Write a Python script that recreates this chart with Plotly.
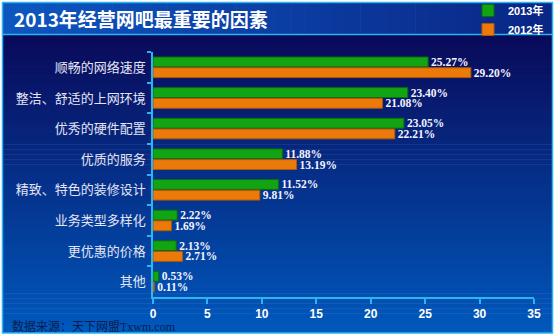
import plotly.graph_objects as go

# ---- data ----
categories = ["顺畅的网络速度", "整洁、舒适的上网环境", "优秀的硬件配置", "优质的服务",
              "精致、特色的装修设计", "业务类型多样化", "更优惠的价格", "其他"]
values_2013 = [25.27, 23.40, 23.05, 11.88, 11.52, 2.22, 2.13, 0.53]
values_2012 = [29.20, 21.08, 22.21, 13.19, 9.81, 1.69, 2.71, 0.11]
series_names = ["2013年", "2012年"]
x_ticks = [0, 5, 10, 15, 20, 25, 30, 35]
title_text = "2013年经营网吧最重要的因素"
source_text = "数据来源：天下网盟Txwm.com"

# ---- geometry (pixels) ----
W, H = 558, 336
L, R, T, B = 153, 24, 52, 39
PW, PH = W - L - R, H - T - B


def px2x(px):
    return (px - L) / PW


def py2y(py):
    return (H - B - py) / PH


def lerp(c1, c2, t):
    a = [int(c1[i:i + 2], 16) for i in (1, 3, 5)]
    b = [int(c2[i:i + 2], 16) for i in (1, 3, 5)]
    return "#%02x%02x%02x" % tuple(round(a[k] + (b[k] - a[k]) * t) for k in range(3))


shapes = []
# plot-region vertical gradient
top_y, bot_y = 35, 333
N = 60
for i in range(N):
    y0 = top_y + (bot_y - top_y) * i / N
    y1 = top_y + (bot_y - top_y) * (i + 1) / N + 0.6
    shapes.append(dict(type="rect", xref="paper", yref="paper", layer="below",
                       x0=px2x(2), x1=px2x(553), y0=py2y(y0), y1=py2y(min(y1, bot_y)),
                       fillcolor=lerp("#0a0a5a", "#0058bc", i / (N - 1)), line_width=0))
# title bar horizontal gradient
M = 40
for i in range(M):
    x0 = 2 + (553 - 2) * i / M
    x1 = 2 + (553 - 2) * (i + 1) / M + 0.6
    shapes.append(dict(type="rect", xref="paper", yref="paper", layer="below",
                       x0=px2x(x0), x1=px2x(min(x1, 553)), y0=py2y(34), y1=py2y(2),
                       fillcolor=lerp("#0d56c0", "#0a2686", i / (M - 1)), line_width=0))
# frame and title-bar separator
shapes.append(dict(type="rect", xref="paper", yref="paper", layer="below",
                   x0=px2x(2.5), x1=px2x(552.5), y0=py2y(333), y1=py2y(2.5),
                   line=dict(color="#2ab4f0", width=1.5)))
shapes.append(dict(type="line", xref="paper", yref="paper", layer="below",
                   x0=px2x(2.5), x1=px2x(552.5), y0=py2y(34.5), y1=py2y(34.5),
                   line=dict(color="#2ab4f0", width=1.5)))

label_font = dict(family="Liberation Serif, Times New Roman, serif", size=11.5,
                  color="#f4f4ff", weight="bold")

fig = go.Figure()
fig.add_trace(go.Bar(
    y=categories, x=values_2013, name=series_names[0], orientation="h",
    marker=dict(color="#12a412", line=dict(color="#0b6e0b", width=1)),
    text=[f"{v:.2f}%" for v in values_2013], textposition="outside",
    textfont=label_font, cliponaxis=False, constraintext="none",
))
fig.add_trace(go.Bar(
    y=categories, x=values_2012, name=series_names[1], orientation="h",
    marker=dict(color="#ec7a0a", line=dict(color="#b05800", width=1)),
    text=[f"{v:.2f}%" for v in values_2012], textposition="outside",
    textfont=label_font, cliponaxis=False, constraintext="none",
))

fig.update_layout(
    width=W, height=H,
    margin=dict(l=L, r=R, t=T, b=B, pad=0, autoexpand=False),
    paper_bgcolor="white", plot_bgcolor="rgba(0,0,0,0)",
    barmode="group", bargap=0.30, bargroupgap=0.08,
    shapes=shapes,
    legend=dict(x=px2x(468), xanchor="left", y=py2y(-4), yanchor="top",
                traceorder="normal", bgcolor="rgba(0,0,0,0)",
                font=dict(family="Liberation Sans, Arial, Noto Sans CJK SC", size=11,
                          color="white", weight="bold"),
                itemwidth=30, tracegroupgap=0),
    xaxis=dict(range=[0, 35], tickvals=x_ticks, showgrid=False, zeroline=False,
               showline=True, linecolor="#2ab4f0", linewidth=1.5,
               ticks="outside", ticklen=5, tickcolor="#2ab4f0", tickwidth=1.5,
               tickfont=dict(family="Liberation Sans, Arial", size=12,
                             color="white", weight="bold")),
    yaxis=dict(autorange="reversed", showgrid=False, zeroline=False,
               showline=True, linecolor="#2ab4f0", linewidth=1.5,
               ticks="outside", ticklen=4, tickcolor="#2ab4f0", tickwidth=1.5,
               tickson="boundaries", ticklabelstandoff=3,
               tickfont=dict(family="Noto Sans CJK SC, sans-serif", size=13,
                             color="#e4e4f4")),
    annotations=[
        dict(text=title_text, xref="paper", yref="paper",
             x=px2x(12), y=py2y(19), xanchor="left", yanchor="middle",
             showarrow=False,
             font=dict(family="Noto Sans CJK SC, sans-serif", size=19,
                       color="white", weight="bold")),
        dict(text=source_text, xref="paper", yref="paper",
             x=px2x(10), y=py2y(326.5), xanchor="left", yanchor="middle",
             showarrow=False,
             font=dict(family="Liberation Serif, Noto Sans CJK SC", size=12,
                       color="#0a1c52")),
    ],
)

fig.write_html("out.html")
